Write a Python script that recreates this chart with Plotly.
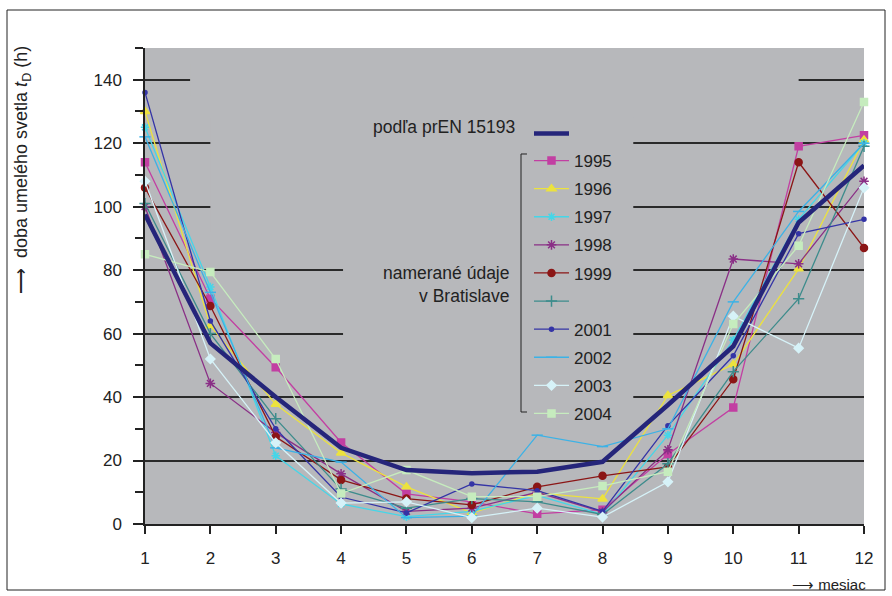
import plotly.graph_objects as go

months = [1, 2, 3, 4, 5, 6, 7, 8, 9, 10, 11, 12]
x_ticks = [1, 2, 3, 4, 5, 6, 7, 8, 9, 10, 11, 12]
y_ticks = [0, 20, 40, 60, 80, 100, 120, 140]

pren = [97.5, 57, 40, 24, 17, 16, 16.5, 19.6, 37.5, 56, 95, 113]

y1995 = [114, 71, 49.4, 25.7, 9.5, 7, 3.2, 4.5, 22, 36.7, 119, 122.5]
y1996 = [130, 62.4, 37.7, 22.4, 11.7, 3.5, 9.8, 7.9, 40.5, 50.3, 80.4, 121]
y1997 = [125, 74.7, 21.5, 6.3, 2.3, 4, 9, 3, 28, 58, 96, 120]
y1998 = [100, 44.3, 28.8, 15.8, 4, 5, 10, 3.8, 23.4, 83.5, 82, 108]
y1999 = [106, 68.7, 27.5, 13.9, 8, 6, 11.7, 15.2, 18, 45.6, 114, 87]
y2000 = [101, 60, 33.2, 11, 5, 8, 7, 3, 19, 48, 71, 119]
y2001 = [136, 64, 30, 8.5, 3.5, 12.6, 10.5, 4, 31, 53, 91.5, 96]
y2002 = [122, 73, 24, 19.5, 2, 2.5, 28, 24.4, 30, 70, 98.5, 120]
y2003 = [108, 52, 25.6, 6.6, 7, 2, 5, 2.2, 13.3, 65.5, 55.4, 106]
y2004 = [85, 79.4, 52, 9.6, 17, 8.6, 8.6, 12, 16.5, 63, 87.7, 133]

series_names = ["1995", "1996", "1997", "1998", "1999", " ", "2001", "2002", "2003", "2004"]
series_vals = [y1995, y1996, y1997, y1998, y1999, y2000, y2001, y2002, y2003, y2004]
series_colors = ["#c23fa2", "#ece23e", "#45d6e8", "#8a2f86", "#8b1616",
                 "#3d8c8c", "#3434a6", "#3cb2e6", "#d6f2f8", "#c6ecbe"]
series_symbols = ["square", "triangle-up", "asterisk-open", "asterisk-open", "circle",
                  "cross-thin-open", "circle", "line-ew-open", "diamond", "square"]
series_msize = [7, 8, 7, 8, 7, 8, 4, 8, 7, 7]

PLOT_BG = "#b7b8bb"
FONT = "Liberation Sans, Arial, sans-serif"

L, R, T, B = 145, 28, 48, 72
W, H = 892, 596
pw, ph = W - L - R, H - T - B


def px(xp):
    return (xp - L) / pw


def py(yp):
    return (H - B - yp) / ph


fig = go.Figure()

for i, (nm, vals) in enumerate(zip(series_names, series_vals)):
    sym = series_symbols[i]
    fig.add_trace(go.Scatter(
        x=months, y=vals, name=nm, mode="lines+markers",
        line=dict(color=series_colors[i], width=1.3),
        marker=dict(symbol=sym, size=series_msize[i], color=series_colors[i],
                    line=dict(color=series_colors[i], width=1.5)),
        legendgroup="g%d" % i, cliponaxis=False, legend="legend",
    ))

fig.add_trace(go.Scatter(
    x=months, y=pren, name=" ", mode="lines",
    line=dict(color="#25257a", width=4.5), cliponaxis=False, legend="legend2",
))

shapes = [
    # gaps in gridlines behind the legend texts
    dict(type="rect", xref="x", yref="y", x0=1.69, x1=11.0, y0=135, y1=145,
         fillcolor=PLOT_BG, line_width=0, layer="between"),
    dict(type="rect", xref="x", yref="y", x0=2.0, x1=8.47, y0=92, y1=128,
         fillcolor=PLOT_BG, line_width=0, layer="between"),
    dict(type="rect", xref="x", yref="y", x0=4.03, x1=8.47, y0=35, y1=85,
         fillcolor=PLOT_BG, line_width=0, layer="between"),
    # outer frame
    dict(type="rect", xref="paper", yref="paper", x0=px(7), x1=px(885), y0=py(590), y1=py(10),
         line=dict(color="#222", width=1), fillcolor="rgba(0,0,0,0)", layer="above"),
    # bracket
    dict(type="path", xref="paper", yref="paper",
         path="M %f,%f L %f,%f L %f,%f L %f,%f" % (px(527), py(154), px(521), py(154),
                                                  px(521), py(412), px(527), py(412)),
         line=dict(color="#222", width=1), layer="above"),
]

annotations = [
    dict(text="podľa prEN 15193", xref="paper", yref="paper", x=px(517), y=py(127),
         xanchor="right", yanchor="middle", showarrow=False,
         font=dict(size=17.5, color="#222", family=FONT)),
    dict(text="namerané údaje<br>v Bratislave", xref="paper", yref="paper", x=px(511), y=py(284),
         xanchor="right", yanchor="middle", align="right", showarrow=False,
         font=dict(size=17.5, color="#222", family=FONT)),
    dict(text="⟶  doba umelého svetla <i>t</i><sub>D</sub> (h)", xref="paper", yref="paper",
         x=px(22), y=py(170), textangle=-90, xanchor="center", yanchor="middle",
         showarrow=False, font=dict(size=18, color="#222", family=FONT)),
    dict(text="⟶ mesiac", xref="paper", yref="paper", x=px(868), y=py(584),
         xanchor="right", yanchor="middle", showarrow=False,
         font=dict(size=15, color="#222", family=FONT)),
]

fig.update_layout(
    width=W, height=H,
    margin=dict(l=L, r=R, t=T, b=B),
    paper_bgcolor="white", plot_bgcolor=PLOT_BG,
    font=dict(family=FONT, size=17, color="#222"),
    shapes=shapes, annotations=annotations,
    legend=dict(x=px(529), y=py(143), xanchor="left", yanchor="top",
                bgcolor="rgba(0,0,0,0)", font=dict(size=17, color="#222", family=FONT),
                tracegroupgap=3, itemwidth=35, traceorder="grouped"),
    legend2=dict(x=px(529), y=py(116), xanchor="left", yanchor="top",
                 bgcolor="rgba(0,0,0,0)", font=dict(size=17, color="#222", family=FONT),
                 itemwidth=35),
    showlegend=True,
)

fig.update_xaxes(
    range=[1, 12], tickmode="array", tickvals=x_ticks, ticktext=[str(v) for v in x_ticks],
    showgrid=False, zeroline=False, showline=True, linecolor="#222", linewidth=1.5,
    ticks="outside", ticklen=8, tickcolor="#222", tickwidth=1.5, ticklabelstandoff=10,
    tickfont=dict(size=17, color="#222", family=FONT),
)
fig.update_yaxes(
    range=[0, 150], tickmode="array", tickvals=y_ticks, ticktext=[str(v) for v in y_ticks],
    showgrid=True, gridcolor="#2a2a2a", gridwidth=1.5, zeroline=False,
    showline=True, linecolor="#222", linewidth=1.5,
    ticks="outside", ticklen=10, tickcolor="#222", tickwidth=1.5, ticklabelstandoff=8,
    minor=dict(tickvals=[10, 30, 50, 70, 90, 110, 130, 150], ticks="outside", ticklen=8,
               tickcolor="#222", tickwidth=1.5, showgrid=False),
    tickfont=dict(size=17, color="#222", family=FONT),
)

fig.write_html("out.html", config={"displayModeBar": False},
               post_script="document.body.style.margin='0px';")
